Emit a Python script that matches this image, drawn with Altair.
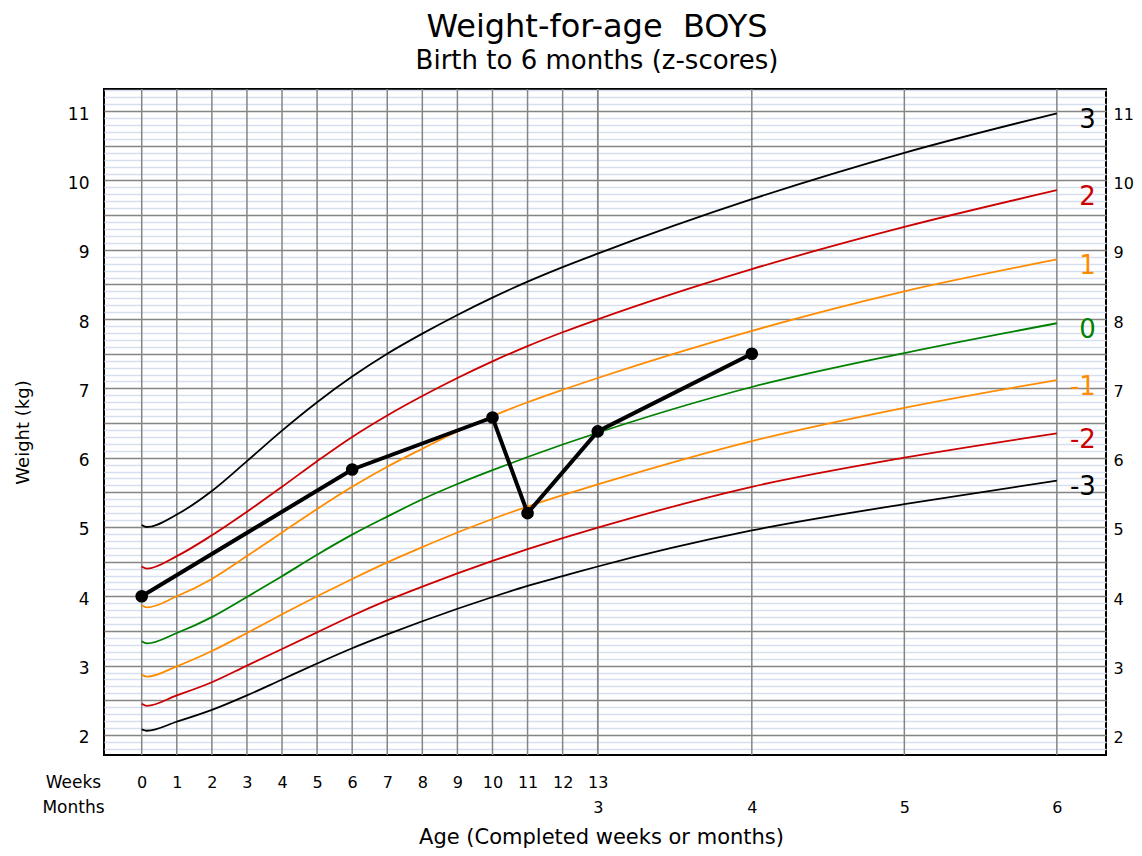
import altair as alt
import pandas as pd

FONT = "DejaVu Sans"

# ---------------- data ----------------
# ages in weeks; the month positions (4, 5, 6 months) are in weeks as well
WEEKS = list(range(14))
MONTH_LABELS = [3, 4, 5, 6]
MONTH_POS = [13] + [round(m * 30.4375 / 7, 3) for m in MONTH_LABELS[1:]]
DIP_WEEK = 0.15
AGE_POINTS = [0, DIP_WEEK] + WEEKS[1:] + MONTH_POS[1:]

Z_NAMES = ["3", "2", "1", "0", "-1", "-2", "-3"]
SD3 = [5.03, 5.00, 5.18, 5.52, 5.95, 6.39, 6.80, 7.17, 7.50, 7.79, 8.06, 8.31, 8.54, 8.75, 8.945, 9.73, 10.40, 10.97]
SD2 = [4.43, 4.40, 4.58, 4.88, 5.22, 5.58, 5.95, 6.30, 6.61, 6.89, 7.15, 7.39, 7.61, 7.81, 7.995, 8.72, 9.33, 9.86]
SD1 = [3.87, 3.84, 4.00, 4.25, 4.58, 4.92, 5.26, 5.58, 5.87, 6.13, 6.38, 6.60, 6.80, 6.98, 7.15, 7.83, 8.40, 8.86]
SD0 = [3.35, 3.32, 3.47, 3.70, 3.99, 4.29, 4.60, 4.89, 5.15, 5.40, 5.62, 5.82, 6.01, 6.19, 6.36, 7.02, 7.51, 7.94]
SDM1 = [2.87, 2.84, 2.99, 3.21, 3.47, 3.74, 4.00, 4.25, 4.49, 4.71, 4.92, 5.115, 5.295, 5.46, 5.615, 6.24, 6.72, 7.12]
SDM2 = [2.45, 2.42, 2.57, 2.76, 3.00, 3.24, 3.48, 3.72, 3.94, 4.14, 4.33, 4.51, 4.68, 4.84, 4.99, 5.58, 6.00, 6.35]
SDM3 = [2.08, 2.06, 2.19, 2.36, 2.57, 2.80, 3.03, 3.25, 3.45, 3.64, 3.82, 3.99, 4.15, 4.29, 4.43, 4.95, 5.33, 5.67]
SERIES = [SD3, SD2, SD1, SD0, SDM1, SDM2, SDM3]
Z_COLORS = ["#000000", "#cc0000", "#ff8c00", "#008000", "#ff8c00", "#cc0000", "#000000"]

PATIENT_AGE = [0, 6, 10, 11, 13, MONTH_POS[1]]
PATIENT_WEIGHT = [4.0, 5.83, 6.58, 5.2, 6.38, 7.5]

Y_LABELS = list(range(2, 12))
MINOR_Y = [round(1.8 + 0.1 * i, 1) for i in range(96)]

# ---------------- tables ----------------
rows = []
for name, vals in zip(Z_NAMES, SERIES):
    for a, v in zip(AGE_POINTS, vals):
        rows.append({"age": a, "w": v, "z": name})
curves_df = pd.DataFrame(rows)
ends_df = pd.DataFrame({"age": [AGE_POINTS[-1]] * 7, "w": [s[-1] for s in SERIES], "z": Z_NAMES})
patient_df = pd.DataFrame({"age": PATIENT_AGE, "w": PATIENT_WEIGHT})
week_df = pd.DataFrame({"pos": WEEKS})
month_df = pd.DataFrame({"pos": MONTH_POS, "label": [str(m) for m in MONTH_LABELS]})

x_scale = alt.Scale(domain=[-1.075, 27.49], nice=False, zero=False)
y_scale = alt.Scale(domain=[1.71, 11.32], nice=False, zero=False)
color_scale = alt.Scale(domain=Z_NAMES, range=Z_COLORS)

GRID_GRAY = "#858585"

week_axis = alt.Axis(
    orient="bottom", values=WEEKS, format="d", grid=False, domain=False, ticks=False,
    labelPadding=19, labelBaseline="top", labelFontSize=16,
    labelColor="black", labelOverlap=False, labelFlush=False,
    title="Age (Completed weeks or months)", titleFontSize=21, titleFontWeight="normal",
    titleColor="black", titleX=497, titleY=88, titleBaseline="alphabetic", titleAlign="center",
)

week_rules = alt.Chart(week_df).mark_rule(color=GRID_GRAY, strokeWidth=1.5).encode(
    x=alt.X("pos:Q", scale=x_scale, axis=week_axis)
)

month_label_expr = (
    "datum.value < 13.5 ? '3' : format(round(datum.value * 7 / 30.4375), 'd')"
)
month_axis = alt.Axis(
    orient="bottom", values=MONTH_POS, labelExpr=month_label_expr, grid=False, domain=False,
    ticks=False, labelPadding=44, labelBaseline="top", labelFontSize=16,
    labelColor="black", labelOverlap=False, labelFlush=False, title=None,
)

month_rules = alt.Chart(month_df).mark_rule(color=GRID_GRAY, strokeWidth=1.5).encode(
    x=alt.X("pos:Q", scale=x_scale, axis=month_axis)
)

major_test = "abs(datum.value * 2 - round(datum.value * 2)) < 0.001"
y_left = alt.Axis(
    values=MINOR_Y,
    labelExpr="abs(datum.value - round(datum.value)) < 0.001 ? format(datum.value, 'd') : ''",
    grid=True,
    gridColor={"condition": {"test": major_test, "value": GRID_GRAY}, "value": "#d6dff0"},
    gridWidth={"condition": {"test": major_test, "value": 1.5}, "value": 1.5},
    domain=False, ticks=False, labelPadding=15, labelOffset=3, labelFontSize=17,
    labelColor="black", labelOverlap=False, labelFlush=False,
    title="Weight (kg)", titleFontSize=18, titleFontWeight="normal", titleColor="black",
    titleAngle=270, titleX=-81, titleY=343, titleAlign="center", titleBaseline="middle",
)

curves = alt.Chart(curves_df).mark_line(strokeWidth=1.8, interpolate="monotone").encode(
    x=alt.X("age:Q", scale=x_scale, axis=None),
    y=alt.Y("w:Q", scale=y_scale, axis=y_left),
    color=alt.Color("z:N", scale=color_scale, legend=None),
)

y_right = alt.Axis(
    orient="right", values=Y_LABELS, grid=False, domain=False, ticks=False,
    labelPadding=7, labelOffset=3, labelFontSize=16, labelColor="black",
    labelOverlap=False, labelFlush=False,
    title=["Weeks", "Months"], titleAngle=0, titleFontSize=17, titleFontWeight="normal",
    titleColor="black", titleX=-1033, titleY=698, titleAlign="center",
    titleBaseline="alphabetic", titleLineHeight=25,
)

pline = alt.Chart(patient_df).mark_line(color="black", strokeWidth=4).encode(
    x=alt.X("age:Q", scale=x_scale, axis=None),
    y=alt.Y("w:Q", scale=y_scale, axis=y_right),
)

points = alt.Chart(patient_df).mark_circle(size=160, color="black", opacity=1).encode(
    x=alt.X("age:Q", scale=x_scale, axis=None),
    y=alt.Y("w:Q", scale=y_scale, axis=None),
)

end_labels = alt.Chart(ends_df).mark_text(
    align="right", baseline="middle", dx=39, dy=6.5, fontSize=26
).encode(
    x=alt.X("age:Q", scale=x_scale, axis=None),
    y=alt.Y("w:Q", scale=y_scale, axis=None),
    text="z:N",
    color=alt.Color("z:N", scale=color_scale, legend=None),
)

chart = (
    alt.layer(week_rules, month_rules, curves, pline, points, end_labels)
    .resolve_axis(x="independent", y="independent")
    .properties(
        width=1002,
        height=666,
        padding={"left": 96, "top": 81, "right": 28, "bottom": 93},
        autosize=alt.AutoSizeParams(type="none"),
        title=alt.TitleParams(
            text="Weight-for-age \u00a0BOYS",
            subtitle="Birth to 6 months (z-scores)",
            fontSize=32, subtitleFontSize=26, fontWeight="normal", subtitleFontWeight="normal",
            color="black", subtitleColor="black", anchor="middle", frame="group",
            dx=-8, offset=9, subtitlePadding=4,
        ),
    )
    .configure(font=FONT)
    .configure_view(stroke="black", strokeWidth=2)
)

chart.save("out.html", embed_options={"renderer": "svg", "actions": False})
